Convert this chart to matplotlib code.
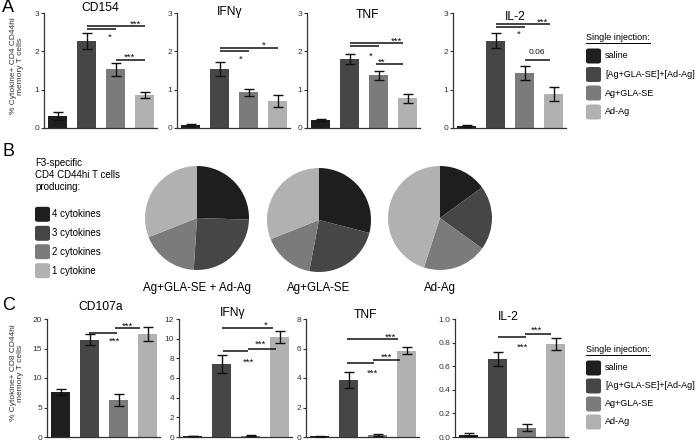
import matplotlib
matplotlib.use('Agg')
import matplotlib.pyplot as plt
from matplotlib.patches import FancyBboxPatch
from matplotlib.lines import Line2D

plt.rcParams['font.family'] = ['Liberation Sans', 'DejaVu Sans']

W, H = 696, 441

# ---------------- data ----------------
groups = ['saline', '[Ag+GLA-SE]+[Ad-Ag]', 'Ag+GLA-SE', 'Ad-Ag']
colors = ['#1e1e1e', '#464646', '#7b7b7b', '#b1b1b1']

cd4_names = ['CD154', 'IFNγ', 'TNF', 'IL-2']
cd4_means = [[0.32, 2.27, 1.53, 0.86],
             [0.08, 1.53, 0.93, 0.70],
             [0.20, 1.80, 1.38, 0.78],
             [0.05, 2.28, 1.43, 0.88]]
cd4_errs = [[0.10, 0.21, 0.17, 0.09],
            [0.02, 0.18, 0.10, 0.15],
            [0.03, 0.13, 0.12, 0.12],
            [0.02, 0.20, 0.18, 0.18]]
cd4_yticks = [0, 1, 2, 3]

cd8_names = ['CD107a', 'IFNγ', 'TNF', 'IL-2']
cd8_means = [[7.6, 16.5, 6.3, 17.5],
             [0.10, 7.4, 0.15, 10.2],
             [0.05, 3.85, 0.15, 5.85],
             [0.02, 0.66, 0.08, 0.79]]
cd8_errs = [[0.5, 0.9, 1.0, 1.2],
            [0.03, 0.9, 0.05, 0.6],
            [0.03, 0.55, 0.05, 0.25],
            [0.01, 0.06, 0.03, 0.05]]
cd8_yticks = [[0, 5, 10, 15, 20],
              [0, 2, 4, 6, 8, 10, 12],
              [0, 2, 4, 6, 8],
              [0.0, 0.2, 0.4, 0.6, 0.8, 1.0]]
cd8_ticklabels = [None, None, None, ['0.0', '0.2', '0.4', '0.6', '0.8', '1.0']]

pie_groups = ['Ag+GLA-SE + Ad-Ag', 'Ag+GLA-SE', 'Ad-Ag']
pie_cats = ['4 cytokines', '3 cytokines', '2 cytokines', '1 cytokine']
pie_fracs = [[25.5, 25.5, 18, 31],
             [29, 24, 16, 31],
             [15, 20, 20, 45]]

# significance annotations: (x1, x2, y, label, label_x, label_y)
cd4_sig = [
    [(1, 3, 2.67, '***', 2.66, 2.78), (1, 2, 2.59, '*', 1.8, 2.43), (2, 3, 1.77, '***', 2.45, 1.90)],
    [(1, 3, 2.09, '*', 2.5, 2.22), (1, 2, 2.01, '*', 1.72, 1.85)],
    [(1, 2.82, 2.22, '***', 2.59, 2.33), (1, 2, 2.13, '*', 1.72, 1.95), (1.9, 2.82, 1.67, '**', 2.1, 1.77)],
    [(1, 2.85, 2.71, '***', 2.62, 2.82), (1, 2, 2.63, '*', 1.8, 2.50), (2, 2.85, 1.78, '0.06', 2.41, 1.97)],
]
cd8_sig = [
    [(0.97, 1.93, 17.6, '***', 1.85, 16.6), (1.85, 2.72, 18.4, '***', 2.28, 19.2)],
    [(1.0, 2.76, 11.07, '*', 2.52, 11.65), (1.03, 1.9, 8.7, '***', 1.9, 7.85), (1.9, 2.86, 9.0, '***', 2.34, 9.65)],
    [(0.92, 2.7, 6.65, '***', 2.42, 6.9), (0.92, 1.88, 5.0, '***', 1.81, 4.5), (1.84, 2.76, 5.2, '***', 2.29, 5.6)],
    [(1.0, 1.97, 0.85, '***', 1.83, 0.785), (1.93, 2.83, 0.87, '***', 2.34, 0.925)],
]

# ---------------- figure ----------------
fig = plt.figure(figsize=(W / 100, H / 100), dpi=100)
fig.patch.set_facecolor('white')

def px_axes(left, top, right, bottom):
    return fig.add_axes([left / W, 1 - bottom / H, (right - left) / W, (bottom - top) / H])

def fx(x):
    return x / W

def fy(y):
    return 1 - y / H

XL = (-0.48, 3.42)
UNIT = 29.0

def bar_panel(left, top, bottom, means, errs, yticks, ymax, sig, ticklabels=None):
    right = left + (XL[1] - XL[0]) * UNIT
    ax = px_axes(left, top, right, bottom)
    xs = list(range(len(means)))
    ax.bar(xs, means, width=0.66, color=colors, edgecolor='none', zorder=2)
    ax.errorbar(xs, means, yerr=errs, fmt='none', ecolor='#111111', elinewidth=1.0,
                capsize=3.6, capthick=1.0, zorder=3)
    ax.set_xlim(*XL)
    ax.set_ylim(0, ymax)
    ax.set_yticks(yticks)
    if ticklabels is not None:
        ax.set_yticklabels(ticklabels)
    ax.set_xticks([])
    for s in ['top', 'right']:
        ax.spines[s].set_visible(False)
    for s in ['left', 'bottom']:
        ax.spines[s].set_linewidth(0.9)
        ax.spines[s].set_color('#333333')
    ax.tick_params(axis='y', labelsize=6, length=2.5, width=0.8, pad=1,
                   colors='#333333', labelcolor='#333333')
    ax.patch.set_alpha(0)
    for (x1, x2, y, lab, lx, ly) in sig:
        ax.plot([x1, x2], [y, y], color='#111111', lw=1.1, solid_capstyle='butt',
                clip_on=False, zorder=4)
        ax.annotate(lab, (lx, ly), xytext=(0, -1.8 if '*' in lab else 0),
                    textcoords='offset points', ha='center', va='center',
                    fontsize=6.8 if '*' in lab else 6, color='#111111')
    return ax

# Panel A
a_lefts = [44, 177, 307, 453]
a_titles = [(100, 8), (230, 12), (367, 15), (515, 17)]
for i in range(4):
    bar_panel(a_lefts[i], 13, 128, cd4_means[i], cd4_errs[i], cd4_yticks, 3, cd4_sig[i])
    tx, ty = a_titles[i]
    fig.text(fx(tx), fy(ty), cd4_names[i], ha='center', va='center', fontsize=8.7)

# Panel C
c_lefts = [47, 179, 306, 455]
c_titles = [(101, 307), (233, 313), (365, 315), (508, 317)]
for i in range(4):
    bar_panel(c_lefts[i], 319, 437, cd8_means[i], cd8_errs[i], cd8_yticks[i],
              cd8_yticks[i][-1], cd8_sig[i], cd8_ticklabels[i])
    tx, ty = c_titles[i]
    fig.text(fx(tx), fy(ty), cd8_names[i], ha='center', va='center', fontsize=8.7)

# y labels
fig.text(fx(17), fy(66), '% Cytokine+ CD4 CD44hi\nmemory T cells', rotation=90,
         ha='center', va='center', fontsize=6, color='#333333', linespacing=1.1)
fig.text(fx(17), fy(373), '% Cytokine+ CD8 CD44hi\nmemory T cells', rotation=90,
         ha='center', va='center', fontsize=6, color='#333333', linespacing=1.1)

# panel letters
fig.text(fx(2), fy(8), 'A', fontsize=13, ha='left', va='center')
fig.text(fx(2), fy(152), 'B', fontsize=13, ha='left', va='center')
fig.text(fx(2), fy(305), 'C', fontsize=13, ha='left', va='center')

# legends for bar panels
def draw_patch(xc_left, yc, w, h, color):
    p = FancyBboxPatch((fx(xc_left), fy(yc + h / 2)), w / W, h / H,
                       boxstyle='round,pad=0,rounding_size=0.004',
                       transform=fig.transFigure, facecolor=color, edgecolor='none')
    fig.patches.append(p)

renderer = fig.canvas.get_renderer()

def bar_legend(top_y, item_ys):
    t = fig.text(fx(586), fy(top_y), 'Single injection:', ha='left', va='center', fontsize=6.5)
    bb = t.get_window_extent(renderer=renderer)
    x0 = bb.x0 / W
    x1 = bb.x1 / W
    fig.add_artist(Line2D([x0, x1], [fy(top_y + 4.5)] * 2, transform=fig.transFigure,
                          color='black', lw=0.7))
    for g, c, y in zip(groups, colors, item_ys):
        draw_patch(586, y, 15, 15, c)
        fig.text(fx(605), fy(y), g, ha='left', va='center', fontsize=6.5)

bar_legend(38, [56, 74.5, 93, 112])
bar_legend(350, [368, 386, 404, 422])

# Panel B legend
fig.text(fx(35), fy(175), 'F3-specific\nCD4 CD44hi T cells\nproducing:', ha='left',
         va='center', fontsize=7, linespacing=1.2)
for cat, c, y in zip(pie_cats, colors, [214.3, 233.3, 251.7, 270.7]):
    draw_patch(35, y, 15, 15, c)
    fig.text(fx(52.5), fy(y), cat, ha='left', va='center', fontsize=7)

# Pies
pie_centers = [(197, 218), (319, 220), (440, 218)]
R = 52
for (cx, cy), fracs, name in zip(pie_centers, pie_fracs, pie_groups):
    ax = px_axes(cx - R, cy - R, cx + R, cy + R)
    ax.pie(fracs, colors=colors, startangle=90, counterclock=False,
           wedgeprops=dict(linewidth=0))
    ax.set_aspect('equal')
    ax.set_xlim(-1, 1)
    ax.set_ylim(-1, 1)
    fig.text(fx(cx), fy(288), name, ha='center', va='center', fontsize=8.3)

fig.savefig('out.png', dpi=100, facecolor='white')
